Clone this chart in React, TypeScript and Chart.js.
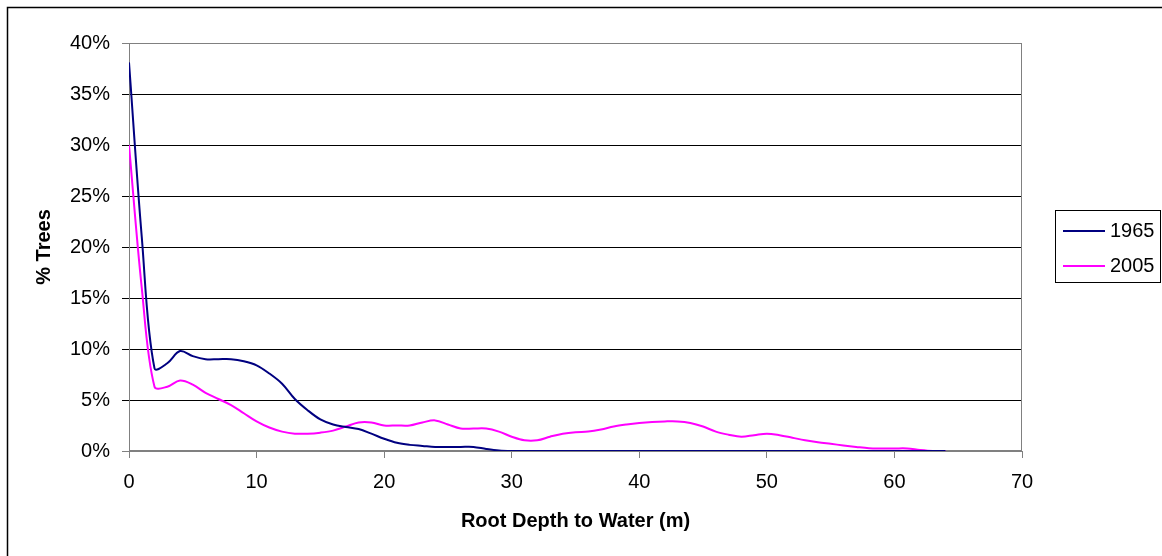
import { useEffect, useRef } from "react";
import { Chart, registerables } from "chart.js";

Chart.register(...registerables);

// Root depth to water (m)
const depth = [
  0, 1, 2, 3, 4, 5, 6, 7, 8, 9, 10, 11, 12, 13, 14, 15, 16, 17, 18, 19, 20,
  21, 22, 23, 24, 25, 26, 27, 28, 29, 30, 31, 32, 33, 34, 35, 36, 37, 38, 39,
  40, 41, 42, 43, 44, 45, 46, 47, 48, 49, 50, 51, 52, 53, 54, 55, 56, 57, 58,
  59, 60, 61, 62, 63, 64,
];

// % of trees at each depth
const trees1965 = [
  38.1, 21, 8.1, 8.6, 9.8, 9.3, 9.0, 9.0, 9.0, 8.8, 8.4, 7.6, 6.6, 5.1, 4.0,
  3.1, 2.6, 2.35, 2.15, 1.7, 1.2, 0.8, 0.6, 0.5, 0.4, 0.4, 0.4, 0.4, 0.2, 0.05,
  0, 0, 0, 0, 0, 0, 0, 0, 0, 0, 0, 0, 0, 0, 0, 0, 0, 0, 0, 0, 0, 0, 0, 0, 0,
  0, 0, 0, 0, 0, 0, 0, 0, 0, 0,
];

const trees2005 = [
  30, 16, 6.3, 6.3, 6.9, 6.5, 5.7, 5.1, 4.5, 3.7, 2.9, 2.3, 1.9, 1.7, 1.7,
  1.8, 2.0, 2.4, 2.8, 2.8, 2.5, 2.5, 2.5, 2.8, 3.0, 2.6, 2.2, 2.2, 2.2, 1.9,
  1.4, 1.05, 1.05, 1.4, 1.7, 1.85, 1.9, 2.1, 2.4, 2.6, 2.75, 2.85, 2.9, 2.9,
  2.75, 2.4, 1.9, 1.6, 1.4, 1.55, 1.7, 1.55, 1.3, 1.05, 0.85, 0.7, 0.55, 0.4,
  0.27, 0.25, 0.25, 0.25, 0.1, 0, 0,
];

const seriesLabels = ["1965", "2005"];
const seriesColors = ["#000080", "#FF00FF"];

const FONT = '"Liberation Sans", Arial, sans-serif';
const AXIS_GRAY = "#808080";

// Outer frame and the grey plot-area outline
const framePlugin = {
  id: "frame",
  beforeDatasetsDraw(chart: any) {
    const { ctx, chartArea } = chart;
    ctx.save();
    ctx.strokeStyle = AXIS_GRAY;
    ctx.lineWidth = 1;
    ctx.strokeRect(
      Math.round(chartArea.left) + 0.5,
      Math.round(chartArea.top) + 0.5,
      Math.round(chartArea.right - chartArea.left) - 1,
      Math.round(chartArea.bottom - chartArea.top) - 1
    );
    ctx.restore();
  },
  afterDraw(chart: any) {
    const { ctx } = chart;
    ctx.save();
    ctx.strokeStyle = "#000000";
    ctx.lineWidth = 1.5;
    ctx.strokeRect(7.5, 7.5, 1300, 700);
    ctx.restore();
  },
};

// Boxed legend on the right
const boxLegendPlugin = {
  id: "boxLegend",
  afterDraw(chart: any) {
    const { ctx } = chart;
    const box = { x: 1055.5, y: 210.5, w: 105, h: 72 };
    ctx.save();
    ctx.fillStyle = "#ffffff";
    ctx.fillRect(box.x, box.y, box.w, box.h);
    ctx.strokeStyle = "#000000";
    ctx.lineWidth = 1;
    ctx.strokeRect(box.x, box.y, box.w, box.h);
    ctx.font = `20px ${FONT}`;
    ctx.textBaseline = "middle";
    ctx.textAlign = "left";
    chart.data.datasets.forEach((ds: any, i: number) => {
      const y = 231 + i * 35;
      ctx.strokeStyle = ds.borderColor;
      ctx.lineWidth = 2;
      ctx.beginPath();
      ctx.moveTo(1063, y);
      ctx.lineTo(1105, y);
      ctx.stroke();
      ctx.fillStyle = "#000000";
      ctx.fillText(ds.label, 1110, y);
    });
    ctx.restore();
  },
};

export default function App() {
  const canvasRef = useRef<HTMLCanvasElement | null>(null);

  useEffect(() => {
    if (!canvasRef.current) return;
    const series = [trees1965, trees2005];
    const chart = new Chart(canvasRef.current, {
      type: "line",
      data: {
        datasets: series.map((vals, i) => ({
          label: seriesLabels[i],
          data: depth.map((d, j) => ({ x: d, y: vals[j] })),
          borderColor: seriesColors[i],
          backgroundColor: seriesColors[i],
          borderWidth: 2,
          pointRadius: 0,
          tension: 0.35,
          fill: false,
        })),
      },
      options: {
        responsive: false,
        animation: false,
        devicePixelRatio: 1,
        layout: { padding: { left: 0, top: 43, right: 140, bottom: 0 } },
        plugins: {
          legend: { display: false },
          tooltip: { enabled: false },
        },
        scales: {
          x: {
            type: "linear",
            min: 0,
            max: 70,
            afterFit(scale: any) {
              scale.height = 105;
            },
            ticks: {
              stepSize: 10,
              color: "#000000",
              padding: 12,
              font: { family: FONT, size: 20 },
              maxRotation: 0,
            },
            grid: {
              drawOnChartArea: false,
              drawTicks: true,
              tickLength: 7,
              color: AXIS_GRAY,
            },
            border: { color: AXIS_GRAY, width: 1 },
            title: {
              display: true,
              text: "Root Depth to Water (m)",
              color: "#000000",
              font: { family: FONT, size: 20, weight: "bold" },
              padding: { top: 0, bottom: 23 },
            },
          },
          y: {
            type: "linear",
            min: 0,
            max: 40,
            afterFit(scale: any) {
              scale.width = 129;
            },
            ticks: {
              stepSize: 5,
              color: "#000000",
              padding: 12,
              font: { family: FONT, size: 20 },
              callback: (v: any) => `${v}%`,
            },
            grid: {
              tickLength: 7,
              color: (c: any) =>
                c.tick && (c.tick.value === 0 || c.tick.value === 40)
                  ? AXIS_GRAY
                  : "#000000",
            },
            border: { color: AXIS_GRAY, width: 1 },
            title: {
              display: true,
              text: "% Trees",
              color: "#000000",
              font: { family: FONT, size: 20, weight: "bold" },
              padding: { top: 32, bottom: 0 },
            },
          },
        },
      },
      plugins: [framePlugin, boxLegendPlugin],
    } as any);
    return () => chart.destroy();
  }, []);

  return (
    <div
      style={{
        position: "absolute",
        left: 0,
        top: 0,
        width: 1162,
        height: 556,
        background: "#ffffff",
      }}
    >
      <canvas ref={canvasRef} width={1162} height={556} />
    </div>
  );
}
